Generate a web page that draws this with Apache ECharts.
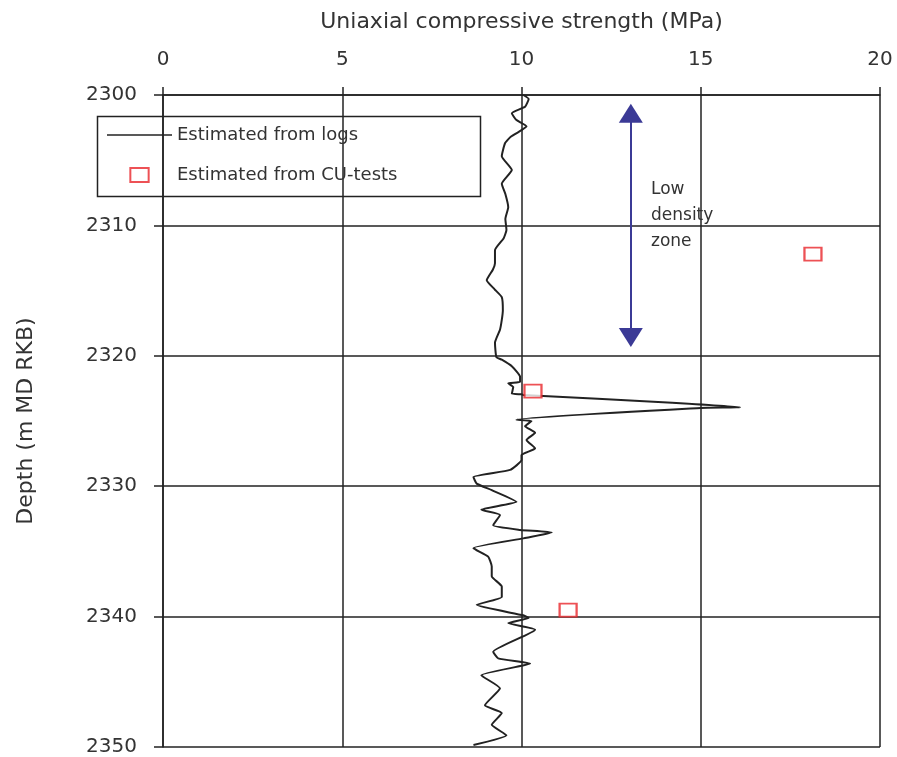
<!DOCTYPE html>
<html>
<head>
<meta charset="utf-8">
<script src="https://cdn.jsdelivr.net/npm/echarts@6/dist/echarts.min.js"></script>
<style>html,body{margin:0;padding:0;background:#fff;}#c{width:897px;height:757px;}</style>
</head>
<body>
<div id="c"></div>
<script>
// Log-derived UCS curve: depth (m MD RKB) and strength (MPa)
var logDepth = [2300.0,2300.3,2300.9,2301.4,2301.9,2302.4,2302.7,2303.2,2303.7,2304.7,2305.75,2306.8,2307.6,2308.6,2309.5,2310.35,
  2311.0,2311.9,2312.9,2313.4,2314.2,2314.9,2315.5,2316.5,2317.25,2318.0,2319.0,2320.1,
  2320.3,2320.8,2321.6,2322.0,2322.1,2322.4,2322.9,2322.95,2323.0,2323.6,2323.95,2324.0,2324.9,2325.0,2325.4,2325.9,2326.45,2327.1,2327.6,
  2328.0,2328.75,2329.3,2329.8,2330.3,2331.2,2331.8,2332.2,2333.0,2333.35,2333.55,2334.0,2334.75,2335.4,2336.15,2336.9,2337.7,2338.5,
  2339.1,2339.9,2340.1,2340.5,2341.0,2342.7,2343.2,2343.6,2344.5,2345.5,2346.8,2347.4,2348.3,2349.1,2349.85];
var logUCS = [10.05,10.2,10.1,9.73,9.85,10.14,10.0,9.7,9.54,9.45,9.73,9.45,9.55,9.63,9.55,9.58,
  9.5,9.26,9.26,9.2,9.03,9.25,9.45,9.48,9.45,9.40,9.26,9.30,
  9.45,9.73,9.96,9.96,9.63,9.77,9.73,10.0,10.05,14.2,16.1,15.0,9.86,10.28,10.1,10.38,10.14,10.38,10.0,
  10.0,9.68,8.66,8.75,9.17,9.86,8.88,9.40,9.21,9.96,10.84,10.05,8.66,9.07,9.17,9.17,9.45,9.45,
  8.75,10.05,10.2,9.63,10.38,9.21,9.35,10.24,8.88,9.40,8.98,9.45,9.17,9.58,8.66];
// CU-test estimates
var cuDepth = [2312.2, 2322.7, 2339.5];
var cuUCS = [18.13, 10.32, 11.3];
// Low density zone arrow
var zoneX = 13.05;
var zoneTop = 2301.4;
var zoneBottom = 2318.6;
var zoneLabel = 'Low\ndensity\nzone';
// Axis ticks
var xMin = 0, xMax = 20, xStep = 5;
var yMin = 2300, yMax = 2350, yStep = 10;
var xTitle = 'Uniaxial compressive strength (MPa)';
var yTitle = 'Depth (m MD RKB)';
var seriesNames = ['Estimated from logs', 'Estimated from CU-tests'];

var logData = logDepth.map(function (d, i) { return [logUCS[i], d]; });
var cuData = cuDepth.map(function (d, i) { return [cuUCS[i], d]; });

var FONT = 'DejaVu Sans';
var chart = echarts.init(document.getElementById('c'), null, { renderer: 'canvas' });
chart.setOption({
  backgroundColor: '#fff',
  animation: false,
  textStyle: { fontFamily: FONT },
  grid: { left: 163, right: 17, top: 95, bottom: 10, containLabel: false },
  xAxis: {
    type: 'value', position: 'top', min: xMin, max: xMax, interval: xStep,
    name: xTitle, nameLocation: 'middle', nameGap: 62,
    nameTextStyle: { fontSize: 22, color: '#333', fontFamily: FONT },
    axisLine: { show: true, lineStyle: { color: '#222', width: 1.5 } },
    axisTick: { show: true, inside: false, length: 8, lineStyle: { color: '#222', width: 1.5 } },
    axisLabel: { fontSize: 20, color: '#333', margin: 25, fontFamily: FONT },
    splitLine: { show: true, lineStyle: { color: '#222', width: 1.5 } }
  },
  yAxis: {
    type: 'value', inverse: true, min: yMin, max: yMax, interval: yStep,
    name: yTitle, nameLocation: 'middle', nameGap: 126, nameRotate: 90,
    nameTextStyle: { fontSize: 22, color: '#333', fontFamily: FONT },
    axisLine: { show: true, lineStyle: { color: '#222', width: 1.5 } },
    axisTick: { show: true, inside: false, length: 9, lineStyle: { color: '#222', width: 1.5 } },
    axisLabel: { fontSize: 20, color: '#333', margin: 26, fontFamily: FONT,
      formatter: function (v) { return String(v); } },
    splitLine: { show: true, lineStyle: { color: '#222', width: 1.5 } }
  },
  legend: {
    orient: 'vertical', left: 95, top: 114,
    padding: [12, 8, 10, 12], itemGap: 22, itemWidth: 65, itemHeight: 14,
    textStyle: { fontSize: 18, color: '#333', fontFamily: FONT },
    data: [
      { name: seriesNames[0], icon: 'path://M0,0h65v1.6h-65z' },
      { name: seriesNames[1], icon: 'path://M0,0h17v13h-17z' }
    ]
  },
  graphic: [
    { type: 'rect', left: 95, top: 114, z: 100, silent: true,
      shape: { width: 383, height: 80 },
      style: { fill: 'none', stroke: '#222', lineWidth: 1.5 } },
    { type: 'text', left: 651, top: 177, z: 100, silent: true,
      style: { text: zoneLabel, fontSize: 17, lineHeight: 26, fill: '#333', fontFamily: FONT } }
  ],
  series: [
    {
      name: seriesNames[0], type: 'line', data: logData, symbol: 'none', smooth: 0.15,
      lineStyle: { color: '#222', width: 2 }, itemStyle: { color: '#222' },
      z: 3, silent: true
    },
    {
      name: seriesNames[1], type: 'scatter', data: cuData, symbol: 'rect', symbolSize: [17, 13],
      itemStyle: { color: '#fff', borderColor: '#e8262b', borderWidth: 2 },
      z: 4, silent: true
    },
    {
      name: 'zone', type: 'line', data: [], silent: true,
      markLine: {
        silent: true, symbol: ['triangle', 'triangle'], symbolSize: [24, 19],
        label: { show: false },
        lineStyle: { color: '#3b3a96', width: 2, type: 'solid' },
        emphasis: { disabled: true },
        data: [[{ coord: [zoneX, zoneTop] }, { coord: [zoneX, zoneBottom] }]]
      }
    }
  ]
});
</script>
</body>
</html>
